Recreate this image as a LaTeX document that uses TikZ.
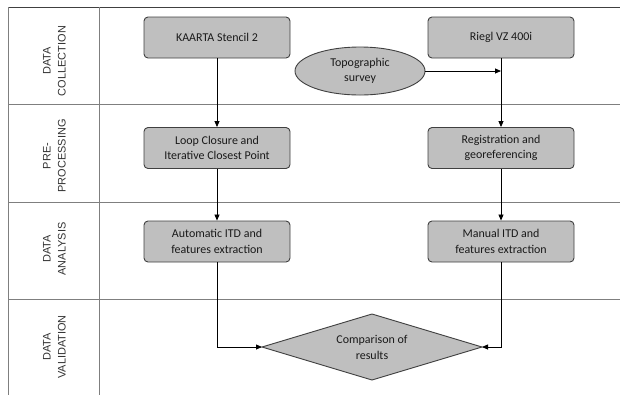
\documentclass[tikz,border=0pt]{standalone}
\usepackage{fontspec}
\setmainfont{Carlito}
\newfontfamily\labfont{Liberation Sans}
\usetikzlibrary{shapes.geometric,arrows.meta}
\definecolor{boxfill}{HTML}{BFBFBF}
\definecolor{boxdraw}{HTML}{404040}
\definecolor{gridc}{HTML}{7F7F7F}
\definecolor{topc}{HTML}{404040}
\definecolor{txt}{HTML}{1A1A1A}
\definecolor{labc}{HTML}{333333}
\tikzset{
  procbox/.style={rectangle, rounded corners=4bp, draw=boxdraw, fill=boxfill, line width=0.9bp,
    minimum width=146bp, minimum height=41bp, align=center, text=txt,
    font=\fontsize{12}{15.5}\selectfont, inner sep=1bp},
  ovalbox/.style={ellipse, draw=boxdraw, fill=boxfill, line width=0.9bp, minimum width=130bp,
    minimum height=48bp, inner sep=0pt, align=center, text=txt, font=\fontsize{12}{15.5}\selectfont},
  decshape/.style={draw=boxdraw, fill=boxfill, line width=0.9bp},
  dectext/.style={align=center, text=txt, font=\fontsize{12}{16}\selectfont, inner sep=0pt},
  lanelabel/.style={rotate=90, align=center, text=labc, font=\labfont\fontsize{11}{15}\selectfont},
  gridline/.style={draw=gridc, line width=1bp},
  arr/.style={-{Triangle[length=6bp,width=5bp]}, line width=0.8bp, draw=black}
}
\begin{document}
\begin{tikzpicture}[x=1bp,y=-1bp]
\useasboundingbox (0,0) rectangle (620,395);
% lanes
\draw[draw=topc, line width=1bp] (8,7) -- (620,7);
\draw[gridline] (8,7) -- (8,395);
\draw[gridline] (99,7) -- (99,395);
\draw[gridline] (8,104) -- (620,104);
\draw[gridline] (8,202) -- (620,202);
\draw[gridline] (8,299) -- (620,299);
% lane labels
\node[lanelabel] (l1) at (54.5,61) {DATA\\COLLECTION};
\node[lanelabel] (l2) at (54.5,156) {PRE-\\PROCESSING};
\node[lanelabel] (l3) at (54.5,249) {DATA\\ANALYSIS};
\node[lanelabel] (l4) at (54.5,347) {DATA\\VALIDATION};
% nodes
\node[procbox] (kaarta) at (217,37.5) {KAARTA Stencil 2};
\node[procbox] (riegl) at (501,37.5) {Riegl VZ 400i};
\node[ovalbox] (topo) at (360,71) {Topographic\\survey};
\node[procbox] (loop) at (217,148) {Loop Closure and\\Iterative Closest Point};
\node[procbox] (reg) at (501,148) {Registration and\\georeferencing};
\node[procbox] (auto) at (217,241.5) {Automatic ITD and\\features extraction};
\node[procbox] (man) at (501,241.5) {Manual ITD and\\features extraction};
% decision diamond
\coordinate (cmpW) at (262,347);
\coordinate (cmpE) at (482,347);
\coordinate (cmpN) at (372,314);
\coordinate (cmpS) at (372,380);
\draw[decshape] (cmpW) -- (cmpN) -- (cmpE) -- (cmpS) -- cycle;
\node[dectext] (cmp) at (372,347) {Comparison of\\results};
% connectors
\draw[arr] (kaarta) -- (loop);
\draw[arr] (loop) -- (auto);
\draw[arr] (riegl) -- (reg);
\draw[arr] (reg) -- (man);
\draw[arr] (topo.east) -- (topo.east -| riegl.south);
\draw[arr] (auto.south) |- (cmpW);
\draw[arr] (man.south) |- (cmpE);
\end{tikzpicture}
\end{document}
